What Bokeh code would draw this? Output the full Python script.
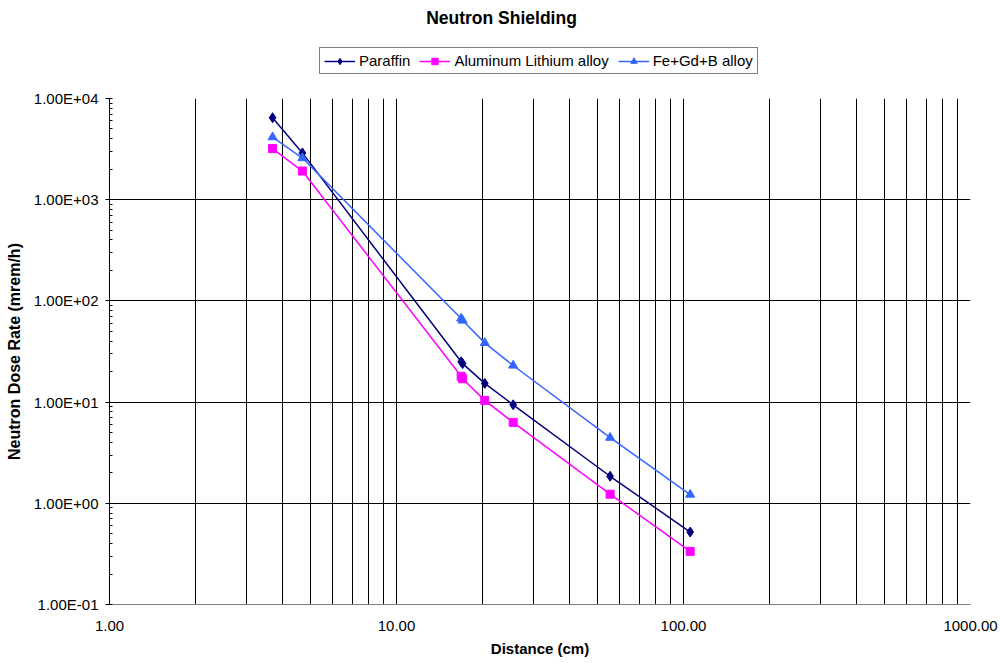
from bokeh.plotting import figure
from bokeh.layouts import column
from bokeh.models import (FixedTicker, PrintfTickFormatter, CustomJSTickFormatter,
                          Legend, LegendItem, Label)
from bokeh.embed import file_html
from bokeh.resources import INLINE

# ---- data ----
distance = [3.7, 4.7, 16.8, 17.0, 20.3, 25.5, 55.5, 105.5]
paraffin = [6460, 2900, 25.0, 24.0, 15.3, 9.4, 1.85, 0.52]
al_li = [3200, 1920, 18.0, 17.0, 10.4, 6.3, 1.23, 0.335]
fe_gd_b = [4150, 2580, 67.0, 64.0, 38.5, 23.0, 4.45, 1.22]

series_names = ["Paraffin", "Aluminum Lithium alloy", "Fe+Gd+B alloy"]
chart_title = "Neutron Shielding"

x_ticks = [1, 10, 100, 1000]
y_ticks = [0.1, 1, 10, 100, 1000, 10000]

FONT = "Liberation Sans"
c1, c2, c3 = "#000080", "#FF00FF", "#3366FF"

# ---------------- main chart ----------------
p = figure(width=1000, height=574, x_axis_type="log", y_axis_type="log",
           x_range=(1, 1000), y_range=(0.1, 10000),
           output_backend="svg", toolbar_location=None,
           min_border_left=109, min_border_right=30,
           min_border_top=9, min_border_bottom=59)
p.outline_line_color = None
p.background_fill_color = "white"
p.border_fill_color = "white"

x_minor = [m * 10 ** e for e in range(0, 3) for m in range(2, 10)]
y_minor = [m * 10 ** e for e in range(-1, 4) for m in range(2, 10)]

p.xaxis.ticker = FixedTicker(ticks=x_ticks, minor_ticks=x_minor)
p.yaxis.ticker = FixedTicker(ticks=y_ticks, minor_ticks=y_minor)
p.xaxis.formatter = PrintfTickFormatter(format="%.2f")
p.yaxis.formatter = CustomJSTickFormatter(code="""
const e = Math.round(Math.log10(tick));
const s = e < 0 ? '-' : '+';
const a = Math.abs(e);
return '1.00E' + s + (a < 10 ? '0' + a : String(a));
""")

for ax in (p.xaxis[0], p.yaxis[0]):
    ax.major_label_text_font = FONT
    ax.major_label_text_font_size = "15px"
    ax.major_label_text_color = "black"
    ax.axis_label_text_font = FONT
    ax.axis_label_text_font_style = "bold"
    ax.axis_label_text_color = "black"

p.xaxis.axis_label = "Distance (cm)"
p.yaxis.axis_label = "Neutron Dose Rate (mrem/h)"
p.xaxis.axis_label_text_font_size = "15px"
p.yaxis.axis_label_text_font_size = "16px"

p.xaxis.axis_line_color = "#808080"
p.xaxis.major_tick_out = 0
p.xaxis.major_tick_in = 0
p.xaxis.minor_tick_out = 0
p.xaxis.minor_tick_in = 0
p.xaxis.major_label_standoff = 16
p.xaxis.axis_label_standoff = 6

p.yaxis.axis_line_color = "black"
p.yaxis.major_tick_out = 4
p.yaxis.major_tick_in = 3
p.yaxis.minor_tick_out = 0
p.yaxis.minor_tick_in = 3
p.yaxis.major_tick_line_color = "black"
p.yaxis.minor_tick_line_color = "black"
p.yaxis.major_label_standoff = 7
p.yaxis.axis_label_standoff = 8

p.xgrid.grid_line_color = "black"
p.xgrid.minor_grid_line_color = "black"
p.xgrid.grid_line_width = 1
p.ygrid.grid_line_color = "black"
p.ygrid.minor_grid_line_color = None

p.line(distance, paraffin, line_color=c1, line_width=1.5)
p.scatter(distance, paraffin, marker="diamond", size=10, fill_color=c1, line_color=c1)
p.line(distance, al_li, line_color=c2, line_width=1.5)
p.scatter(distance, al_li, marker="square", size=8, fill_color=c2, line_color=c2)
p.line(distance, fe_gd_b, line_color=c3, line_width=1.5)
p.scatter(distance, fe_gd_b, marker="triangle", size=9, fill_color=c3, line_color=c3)

# ---------------- header: title + legend ----------------
# the header frame is aligned with the chart frame (page x 109 .. 970)
h = figure(width=1000, height=89, x_range=(109, 970), y_range=(89, 0),
           output_backend="svg", toolbar_location=None,
           x_axis_location=None, y_axis_location=None, min_border=0)
h.outline_line_color = None
h.xgrid.visible = False
h.ygrid.visible = False
h.background_fill_color = "white"
h.border_fill_color = "white"

h.add_layout(Label(x=501, y=17, text=chart_title, text_align="center",
                   text_baseline="middle", text_font=FONT, text_font_size="17.5px",
                   text_font_style="bold", text_color="black"))

# legend proxies (hidden; they only supply the legend swatches)
g1 = h.line(distance, paraffin, line_color=c1, line_width=1.5, visible=False)
s1 = h.scatter(distance, paraffin, marker="diamond", size=10, fill_color=c1, line_color=c1, visible=False)
g2 = h.line(distance, al_li, line_color=c2, line_width=1.5, visible=False)
s2 = h.scatter(distance, al_li, marker="square", size=8, fill_color=c2, line_color=c2, visible=False)
g3 = h.line(distance, fe_gd_b, line_color=c3, line_width=1.5, visible=False)
s3 = h.scatter(distance, fe_gd_b, marker="triangle", size=9, fill_color=c3, line_color=c3, visible=False)

legend = Legend(items=[
    LegendItem(label=series_names[0], renderers=[g1, s1]),
    LegendItem(label=series_names[1], renderers=[g2, s2]),
    LegendItem(label=series_names[2], renderers=[g3, s3]),
], orientation="horizontal", location=(210, 15))
legend.border_line_color = "black"
legend.border_line_width = 1
legend.background_fill_color = "white"
legend.background_fill_alpha = 1
legend.inactive_fill_alpha = 0
legend.label_text_font = FONT
legend.label_text_font_size = "15px"
legend.label_text_color = "black"
legend.glyph_width = 31
legend.glyph_height = 16
legend.label_height = 16
legend.label_standoff = 4
legend.spacing = 9
legend.padding = 4
legend.margin = 0
h.add_layout(legend, "center")

layout = column(h, p, spacing=0)
open("out.html", "w").write(file_html(layout, INLINE))
